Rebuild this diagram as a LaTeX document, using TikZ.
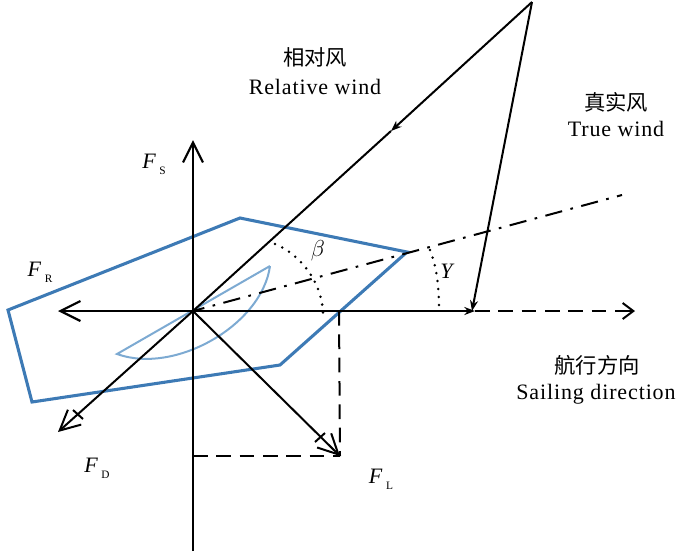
\documentclass[tikz,border=0pt]{standalone}
\usepackage{fontspec}
\setmainfont{Liberation Serif}[LetterSpace=4]
\newfontfamily\cjk{Noto Sans CJK SC}
\usepackage{tikz}
\usetikzlibrary{arrows.meta}
\definecolor{sailblue}{HTML}{3D7AB5}
\definecolor{foilblue}{HTML}{7DAAD2}
\tikzset{axis/.style={line width=1.6pt,-{Straight Barb[length=15pt,width=15pt,line width=1.6pt]}}}
\tikzset{force/.style={line width=1.5pt,-{Straight Barb[length=15pt,width=15pt,line width=1.5pt]}}}
\tikzset{wind/.style={line width=1.5pt,-{Stealth[length=8pt,width=6pt]}}}
\tikzset{guide/.style={line width=1.5pt,dash pattern=on 11pt off 6.5pt}}
\tikzset{angmark/.style={line width=2.1pt,line cap=round,dash pattern=on 0pt off 6pt}}
\tikzset{label/.style={font=\fontsize{16.5pt}{18pt}\selectfont,inner sep=0pt}}
\tikzset{cnlabel/.style={font=\fontsize{16pt}{18pt}\cjk,inner sep=0pt}}
\newcommand{\forcelabel}[1]{\textit{F}\raisebox{-0.6ex}{\kern2pt\fontsize{8.5pt}{9pt}\selectfont #1}}
\begin{document}
\begin{tikzpicture}[x=0.75pt,y=-0.75pt]
        \useasboundingbox (0,0) rectangle (700,551);
        % Coordinates
        \coordinate (O) at (193,311);
        \coordinate (Apex) at (532,2);
        \coordinate (WindMid) at (391,131);
        \coordinate (WindEnd) at (472,311);
        \coordinate (FsTip) at (193,140);
        \coordinate (FsEnd) at (193,551);
        \coordinate (FrTip) at (58,311);
        \coordinate (FdTip) at (58,432);
        \coordinate (FlTip) at (340,456);
        \coordinate (DirEnd) at (475,311);
        \coordinate (DirTip) at (635,311);
        \coordinate (ChordEnd) at (622,195);
        \coordinate (LiftTop) at (339,311);
        \coordinate (LiftLeft) at (193,456);
        % Sail polygon and foil
        \draw[line width=2.3pt,color=sailblue] (8,310) -- (240,218) -- (407,252) 
        -- (280,365) -- (32,402) -- cycle;
        \draw[line width=1.5pt,color=foilblue] (270,266) -- (117,354) 
        .. controls (175,375) and (262,325) .. (270,266);
        % Axes
        \draw[axis] (FsEnd) -- (FsTip);
        \draw[axis] (O) -- (FrTip);
        \draw[line width=1.6pt,-{Stealth[length=8pt,width=6pt]}] (O) -- (DirEnd);
        \draw[guide] (DirEnd) -- (DirTip);
        \draw[line width=1.5pt,-{Straight Barb[length=8pt,width=12pt,line width=1.5pt]}] 
        (625,311) -- (DirTip);
        % Wind triangle
        \draw[wind] (Apex) -- (WindMid);
        \draw[line width=1.5pt] (WindMid) -- (O);
        \draw[wind] (Apex) -- (WindEnd);
        % Chord line
        \draw[line width=1.5pt,dash pattern=on 13pt off 6.4pt on 2pt off 6.4pt,dash phase=4.2pt] (O) -- (ChordEnd);
        % Forces
        \draw[force] (O) -- (FdTip);
        \draw[force] (O) -- (FlTip);
        \draw[guide] (LiftTop) -- (FlTip);
        \draw[guide] (LiftLeft) -- (FlTip);
        % Ticks on the forces
        \coordinate (TickDa) at (73,410);
        \coordinate (TickDb) at (83,419);
        \coordinate (TickLa) at (315,442);
        \coordinate (TickLb) at (325,433);
        \draw[line width=1.5pt] (TickDa) -- (TickDb);
        \draw[line width=1.5pt] (TickLa) -- (TickLb);
        % Angle marks
        \draw[angmark] (275,244) .. controls (300,254) and (322,282) .. (323,313);
        \draw[angmark] (430,250) .. controls (436,265) and (439,285) .. (439,306);
        % Labels
        \node[label] (beta) at (318,251) {$\beta$};
        \node[label] (gamma) at (448,271) {\textit{Y}};
        \node[label] (fs) at (154,164) {\forcelabel{S}};
        \node[label] (fr) at (40,272) {\forcelabel{R}};
        \node[label] (fd) at (97,468) {\forcelabel{D}};
        \node[label] (fl) at (381,479) {\forcelabel{L}};
        \node[cnlabel] (relcn) at (315,57) {相对风};
        \node[label] (relen) at (315,87) {Relative wind};
        \node[cnlabel] (truecn) at (616,102) {真实风};
        \node[label] (trueen) at (616,129) {True wind};
        \node[cnlabel] (dircn) at (597,365) {航行方向};
        \node[label] (diren) at (596,394) {Sailing direction};
    \end{tikzpicture}
\end{document}
